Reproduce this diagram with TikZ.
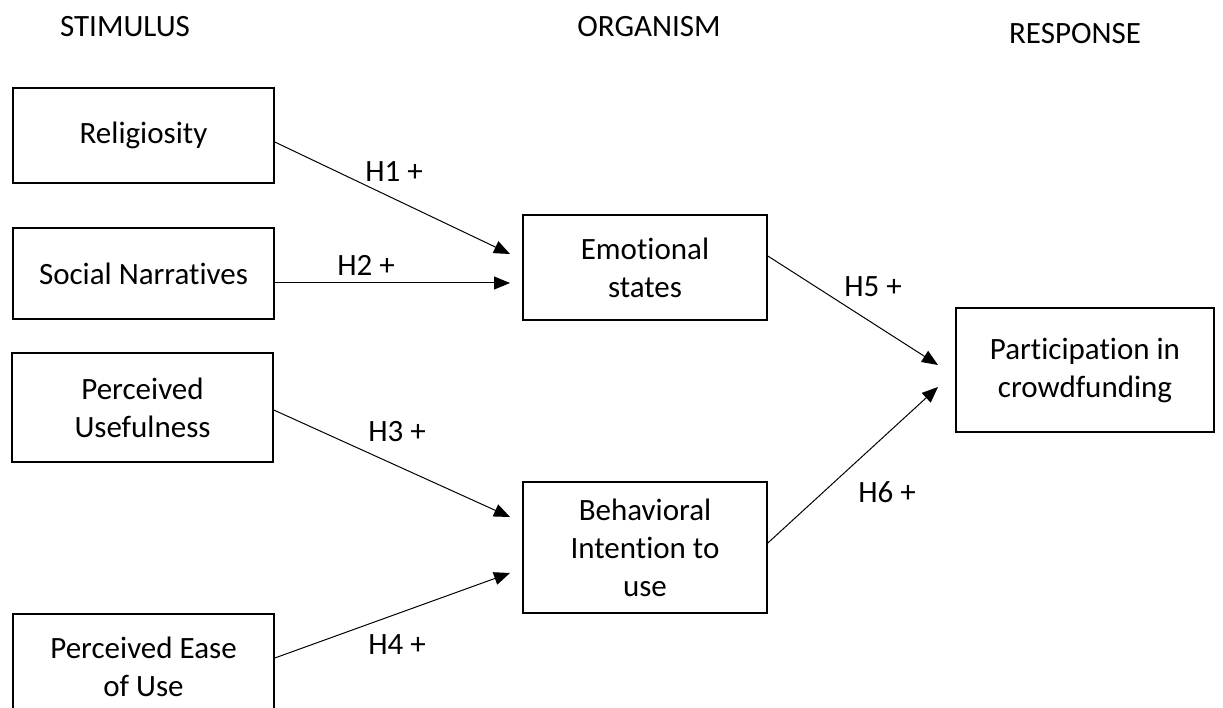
\documentclass[tikz,border=0pt]{standalone}
\usepackage{fontspec}
\setmainfont{Carlito}[Ligatures=NoCommon]
\usetikzlibrary{arrows.meta}
\tikzset{
  box/.style={draw=black, line width=1.6pt, inner sep=0pt, align=center,
    font=\fontsize{31}{38}\selectfont},
  hdr/.style={inner sep=0pt, font=\fontsize{31}{38}\selectfont},
  hlab/.style={inner sep=0pt, font=\fontsize{31}{38}\selectfont},
  conn/.style={line width=1pt, -{Triangle[length=16pt,width=13pt]}}
}
\begin{document}
\begin{tikzpicture}[x=1pt,y=-1pt]
\useasboundingbox (0,0) rectangle (1223,708);
\fill[white] (0,0) rectangle (1223,708);
\clip (0,0) rectangle (1223,708);

% headers
\node[hdr] (hs) at (125,27) {STIMULUS};
\node[hdr] (ho) at (649,27) {ORGANISM};
\node[hdr] (hr) at (1075,34) {RESPONSE};

% stimulus boxes
\node[box, minimum width=261pt, minimum height=95pt] (rel) at (143.5,135.5) {Religiosity};
\node[box, minimum width=261pt, minimum height=91pt] (soc) at (143.5,273.5) {Social Narratives};
\node[box, minimum width=261pt, minimum height=109pt] (pu) at (142.5,407.5) {Perceived\\Usefulness};
\node[box, minimum width=261pt, minimum height=106pt] (peu) at (143.5,667) {Perceived Ease\\of Use};

% organism boxes
\node[box, minimum width=244pt, minimum height=105pt] (emo) at (645,267.5) {Emotional\\states};
\node[box, minimum width=244pt, minimum height=131pt] (bi) at (645,547.5) {Behavioral\\Intention to\\use};

% response box
\node[box, minimum width=258pt, minimum height=124pt] (part) at (1085,370) {Participation in\\crowdfunding};

% arrow end points
\coordinate (t1) at (510,254);
\coordinate (t2) at (510,283);
\coordinate (t3) at (510,517);
\coordinate (t4) at (510,573);
\coordinate (t5) at (938,365);
\coordinate (t6) at (938,387);

\draw[conn] ([yshift=-6.5pt]rel.east) -- (t1);
\draw[conn] ([yshift=-9.5pt]soc.east) -- (t2);
\draw[conn] ([yshift=-2.5pt]pu.east) -- (t3);
\draw[conn] ([yshift=9pt]peu.east) -- (t4);
\draw[conn] ([yshift=11.5pt]emo.east) -- (t5);
\draw[conn] ([yshift=4.5pt]bi.east) -- (t6);

% labels
\node[hlab] (l1) at (394,172) {H1 +};
\node[hlab] (l2) at (366,265) {H2 +};
\node[hlab] (l3) at (397,432) {H3 +};
\node[hlab] (l4) at (397,645) {H4 +};
\node[hlab] (l5) at (873,287) {H5 +};
\node[hlab] (l6) at (887,492) {H6 +};
\end{tikzpicture}
\end{document}
